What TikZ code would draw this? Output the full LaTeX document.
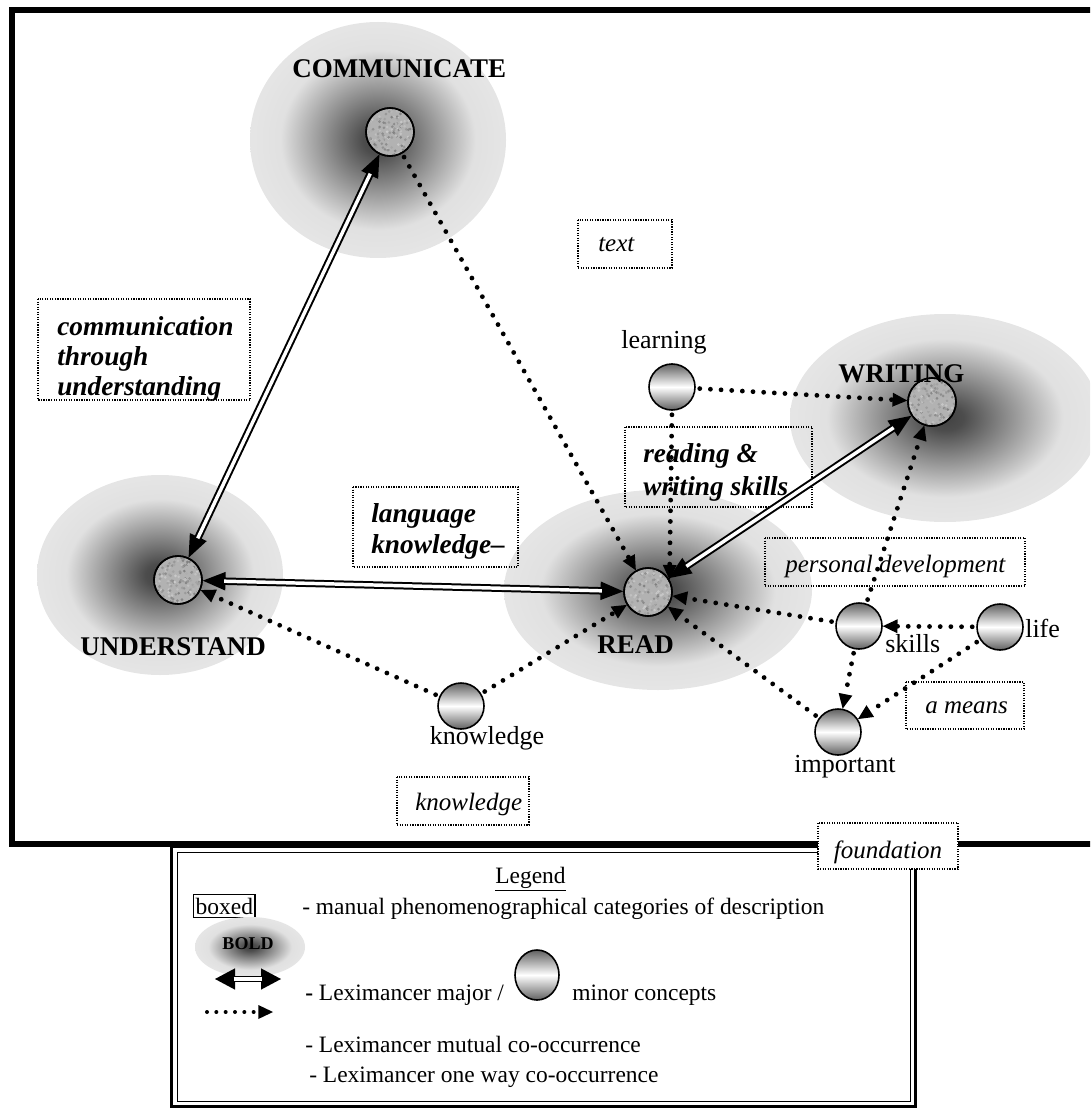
\documentclass[tikz,border=0pt]{standalone}
\usepackage{fontspec}
\setmainfont{Liberation Serif}
\usetikzlibrary{arrows.meta,shapes.geometric}
\pgfdeclareradialshading{blob}{\pgfpoint{0bp}{0bp}}{color(0bp)=(black!74); color(3bp)=(black!70); color(19bp)=(black!12); color(25bp)=(black!10); color(50bp)=(black!10)}
\newcommand\granite[1]{%
  \begin{scope}
    \clip (#1) circle (17.4pt);
    \foreach \k in {1,...,160}{%
      \pgfmathsetmacro\gx{rand*17}%
      \pgfmathsetmacro\gy{rand*17}%
      \pgfmathsetmacro\gs{20+30*rnd}%
      \fill[black!\gs, shift={(#1)}] (\gx pt,\gy pt) circle (1.1pt);}
  \end{scope}
  \draw[line width=1.2pt] (#1) circle (18pt);}
\begin{document}
\begin{tikzpicture}[x=0.75pt,y=-0.75pt,
  blobE/.style={ellipse, shade, shading=blob, draw=none, inner sep=0pt},
  major/.style={circle, draw, line width=1.2pt, fill=black!30, minimum size=36pt, inner sep=0pt},
  minor/.style={circle, draw, line width=1.2pt, top color=black!62, bottom color=black!62, middle color=white, minimum size=34.5pt, inner sep=0pt},
  lab/.style={font=\fontsize{19.5}{23}\selectfont, inner sep=0pt},
  capl/.style={font=\fontsize{20.25}{24}\selectfont\bfseries, inner sep=0pt},
  bitxt/.style={font=\fontsize{20.5}{24}\selectfont\bfseries\itshape, inner sep=0pt},
  ittxt/.style={font=\fontsize{18.75}{22}\selectfont\itshape, inner sep=0pt},
  legtxt/.style={font=\fontsize{17.6}{21}\selectfont, inner sep=0pt},
  dbox/.style={densely dotted, line width=0.9pt},
  dotarrow/.style={line width=3.6pt, dash pattern=on 0pt off 8pt, line cap=round, shorten <=3pt,
     -{Triangle[length=11pt,width=10.5pt,line width=0pt]}},
  tipline/.style={line width=0.8pt, {Triangle[length=17pt,width=14pt,line width=0pt]}-{Triangle[length=17pt,width=14pt,line width=0pt]}},
  dblshaft/.style={double, line width=1.5pt, double distance=2.6pt, shorten <=16pt, shorten >=16pt}
]
\pgfmathsetseed{7}
\useasboundingbox (0,0) rectangle (1090,1112);
\clip (0,0) rectangle (1090,1112);

% outer frame
\draw[line width=4.5pt, line join=miter] (1100,10) -- (11.5,10) -- (11.5,844) -- (1100,844);

% major concept clouds
\node[blobE, minimum width=192pt, minimum height=177pt] (commE) at (378,140) {};
\node[blobE, minimum width=232.5pt, minimum height=156pt] (writE) at (945,418) {};
\node[blobE, minimum width=231pt, minimum height=150pt] (readE) at (658,590) {};
\node[blobE, minimum width=184.5pt, minimum height=150pt] (undE) at (160,575) {};

% category boxes
\draw[dbox] (578,220) rectangle (672,268);
\node[ittxt, anchor=base west] (tText) at (598,252) {text};

\begin{scope}
\clip (38,299) rectangle (250,400);
\node[bitxt, anchor=base west] (cu1) at (57,335) {communication};
\node[bitxt, anchor=base west] (cu2) at (57,365) {through};
\node[bitxt, anchor=base west] (cu3) at (57,395) {understanding};
\end{scope}
\draw[dbox] (38,299) rectangle (250,400);

\begin{scope}
\clip (353,487) rectangle (518,567);
\node[bitxt, anchor=base west] (lk1) at (371,522) {language};
\node[bitxt, anchor=base west] (lk2) at (371,553) {knowledge–};
\end{scope}
\draw[dbox] (353,487) rectangle (518,567);

\begin{scope}
\clip (625,427) rectangle (812,507);
\node[bitxt, anchor=base west] (rw1) at (643,462) {reading \&};
\node[bitxt, anchor=base west] (rw2) at (643,495) {writing skills};
\end{scope}
\draw[dbox] (625,427) rectangle (812,507);

\draw[dbox] (765,538) rectangle (1025,586);
\node[ittxt, anchor=base west] (tPD) at (785,572) {personal development};

\draw[dbox] (906,682) rectangle (1024,729);
\node[ittxt, anchor=base west] (tMeans) at (925,713) {a means};

\draw[dbox] (397,777) rectangle (529,825);
\node[ittxt, anchor=base west] (tKnow) at (415,810) {knowledge};

% concept circles
\node[major] (comm) at (390,132) {};
\node[major] (writ) at (932,402) {};
\node[major] (und) at (178,580) {};
\node[major] (read) at (648,592) {};
\granite{comm}
\granite{writ}
\granite{und}
\granite{read}
\node[minor] (learn) at (672,387) {};
\node[minor] (know) at (461,706) {};
\node[minor] (skills) at (859,626) {};
\node[minor] (life) at (1000,627) {};
\node[minor] (imp) at (838,732) {};

% mutual co-occurrence (double arrows)
\draw[tipline] (comm) -- (und);
\draw[dblshaft] (comm) -- (und);
\draw[tipline] (und) -- (read);
\draw[dblshaft] (und) -- (read);
\draw[tipline] (read) -- (writ);
\draw[dblshaft] (read) -- (writ);

% one way co-occurrence (dotted arrows)
\draw[dotarrow] (comm) -- (read);
\draw[dotarrow] (learn) -- (writ);
\draw[dotarrow] (learn.south) -- (read.30);
\draw[dotarrow] (skills) -- (writ);
\draw[dotarrow] (skills) -- (read);
\draw[dotarrow] (life) -- (skills);
\draw[dotarrow] (skills) -- (imp);
\draw[dotarrow] (life) -- (imp);
\draw[dotarrow] (imp) -- (read);
\draw[dotarrow] (know) -- (read);
\draw[dotarrow] (know) -- (und);

% labels
\node[capl, anchor=base west] (lComm) at (292,78) {COMMUNICATE};
\node[capl, anchor=base west] (lWrit) at (838,382) {WRITING};
\node[capl, anchor=base west] (lUnd) at (80,655) {UNDERSTAND};
\node[capl, anchor=base west] (lRead) at (597,653) {READ};
\node[lab, anchor=base] (lLearn) at (664,348) {learning};
\node[lab, anchor=base] (lKnow) at (487,744) {knowledge};
\node[lab, anchor=base west] (lSkills) at (885,652) {skills};
\node[lab, anchor=base west] (lLife) at (1025,637) {life};
\node[lab, anchor=base] (lImp) at (845,772) {important};

% legend
\draw[line width=2.25pt, fill=white] (171.5,846) rectangle (915.5,1106.5);
\draw[line width=0.75pt] (177,852) rectangle (910,1101);
\node[legtxt, anchor=base west] (legT) at (495,883) {\underline{Legend}};
\node[legtxt, anchor=base west, draw, line width=1pt, inner xsep=1.5pt, inner ysep=2.5pt] (legBox) at (193,914) {boxed};
\node[legtxt, anchor=base west] (legL1) at (302,914) {- manual phenomenographical categories of description};
\node[blobE, minimum width=82.5pt, minimum height=45pt] (legE) at (250,947) {};
\node[font=\fontsize{13.5}{16}\selectfont\bfseries, inner sep=0pt] (legBold) at (248,944) {BOLD};
\coordinate (da1) at (215,979);
\coordinate (da2) at (281,979);
\draw[line width=0.8pt, {Triangle[length=15pt,width=16pt,line width=0pt]}-{Triangle[length=15pt,width=16pt,line width=0pt]}] (da1) -- (da2);
\draw[double, line width=1.3pt, double distance=2.4pt, shorten <=14pt, shorten >=14pt] (da1) -- (da2);
\coordinate (dt1) at (207,1012);
\coordinate (dt2) at (273,1012);
\draw[dotarrow, line width=3pt, dash pattern=on 0pt off 7pt, shorten <=0pt] (dt1) -- (dt2);
\node[legtxt, anchor=base west] (legL2) at (305,1000) {\textbf{-} Leximancer major /};
\node[ellipse, draw, line width=1.2pt, top color=black!62, bottom color=black!62, middle color=white, minimum width=33pt, minimum height=37.5pt, inner sep=0pt] (legMinor) at (537,975) {};
\node[legtxt, anchor=base west] (legL3) at (572,1000) {minor concepts};
\node[legtxt, anchor=base west] (legL4) at (305,1052) {- Leximancer mutual co-occurrence};
\node[legtxt, anchor=base west] (legL5) at (309,1082) {- Leximancer one way co-occurrence};

% foundation box lies over the frame and legend edge
\draw[dbox, fill=white] (818,823) rectangle (958,869);
\node[ittxt, anchor=base] (tFound) at (888,858) {foundation};
\end{tikzpicture}
\end{document}
